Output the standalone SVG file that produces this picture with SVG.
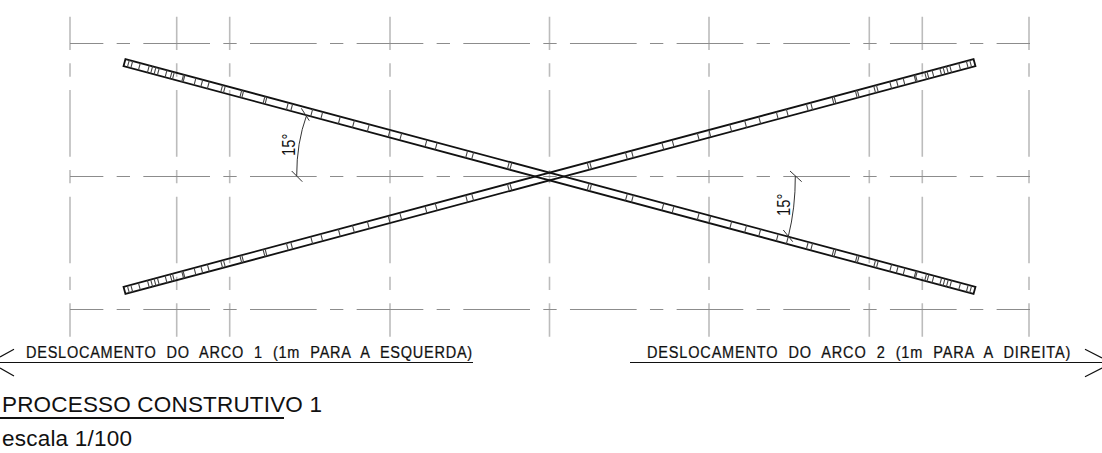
<svg xmlns="http://www.w3.org/2000/svg" xmlns:xlink="http://www.w3.org/1999/xlink" width="1102" height="453" viewBox="0 0 1102 453">
<style>
text{font-family:"Liberation Sans",Arial,sans-serif;fill:#111}
.gv{fill:none;stroke:#bcbcbc;stroke-width:1.6;stroke-dasharray:66.67 13.33 13.33 13.33;stroke-dashoffset:33.33}
.gh{fill:none;stroke:#8c8c8c;stroke-width:1.1;stroke-dasharray:66.67 13.33 13.33 13.33;stroke-dashoffset:33.33}
.edge{fill:none;stroke:#111;stroke-width:1.8}
.tick{fill:none;stroke:#444;stroke-width:1.1}
.thin{fill:none;stroke:#333;stroke-width:1}
.rule{fill:none;stroke:#111;stroke-width:1.2}
.cad{font-size:16.5px;word-spacing:6px;stroke:#111;stroke-width:.25}
.ang{font-size:18px}
</style>
<defs>
<g id="beam">
<path class="edge" d="M-440-3.7H440V3.7H-440Z"/>
<path class="tick" d="M40-3.7v7.4M42.6-3.7v7.4M79.6-3.7v7.4M85.8-3.7v7.4M117.3-3.7v7.4M127.9-3.7v7.4M154-3.7v7.4M166-3.7v7.4M187.6-3.7v7.4M203-3.7v7.4M217.6-3.7v7.4M235.8-3.7v7.4M246.2-3.7v7.4M266.9-3.7v7.4M271.4-3.7v7.4M293.5-3.7v7.4M295.6-3.7v7.4M317.6-3.7v7.4M319.6-3.7v7.4M336.6-3.7v7.4M339.4-3.7v7.4M353.2-3.7v7.4M360-3.7v7.4M367-3.7v7.4M378.4-3.7v7.4M379.8-3.7v7.4M389.4-3.7v7.4M391.8-3.7v7.4M397-3.7v7.4M405-3.7v7.4M408.4-3.7v7.4M411.9-3.7v7.4M415.3-3.7v7.4M424.6-3.7v7.4M432.5-3.7v7.4M436-3.7v7.4"/>
<path class="tick" d="M-40-3.7v7.4M-42.6-3.7v7.4M-79.6-3.7v7.4M-85.8-3.7v7.4M-117.3-3.7v7.4M-127.9-3.7v7.4M-154-3.7v7.4M-166-3.7v7.4M-187.6-3.7v7.4M-203-3.7v7.4M-217.6-3.7v7.4M-235.8-3.7v7.4M-246.2-3.7v7.4M-266.9-3.7v7.4M-271.4-3.7v7.4M-293.5-3.7v7.4M-295.6-3.7v7.4M-317.6-3.7v7.4M-319.6-3.7v7.4M-336.6-3.7v7.4M-339.4-3.7v7.4M-353.2-3.7v7.4M-360-3.7v7.4M-367-3.7v7.4M-378.4-3.7v7.4M-379.8-3.7v7.4M-389.4-3.7v7.4M-391.8-3.7v7.4M-397-3.7v7.4M-405-3.7v7.4M-408.4-3.7v7.4M-411.9-3.7v7.4M-415.3-3.7v7.4M-424.6-3.7v7.4M-432.5-3.7v7.4M-436-3.7v7.4"/>
</g>
</defs>
<g id="grid">
<path class="gv" d="M70 16.7V336.7M176.7 16.7V336.7M229.7 16.7V336.7M390 16.7V336.7M549.5 16.7V336.7M709 16.7V336.7M869.3 16.7V336.7M922.3 16.7V336.7M1029 16.7V336.7"/>
<path class="gh" d="M70 43.5H1030M70 176.5H1030M70 309.5H1030"/>
</g>
<g id="arch-1"><use xlink:href="#beam" href="#beam" transform="translate(549.5 176.5) rotate(15)"/></g>
<g id="arch-2"><use xlink:href="#beam" href="#beam" transform="translate(549.5 176.5) rotate(-15)"/></g>
<g id="angle-left">
<path class="thin" d="M296.7 176Q296.5 143 306.7 115M291.7 171L302.3 181.7M301.3 108.3L309.3 120.7"/>
<text class="ang" transform="translate(295 156) rotate(-90) scale(.82 1)">15°</text>
</g>
<g id="angle-right">
<path class="thin" d="M795.3 176Q795.5 208 788.3 236.5M790 171L801.7 181.7M783.3 230L792.7 241.7"/>
<text class="ang" transform="translate(790 216) rotate(-90) scale(.82 1)">15°</text>
</g>
<g id="shift-1">
<text class="cad" transform="translate(26 358.3) scale(.88 1)" textLength="507">DESLOCAMENTO DO ARCO 1 (1m PARA A ESQUERDA)</text>
<path class="rule" d="M0 362.5H473M14 349.3L0 357M14 376L0 368"/>
</g>
<g id="shift-2">
<text class="cad" transform="translate(647 358.3) scale(.88 1)" textLength="481">DESLOCAMENTO DO ARCO 2 (1m PARA A DIREITA)</text>
<path class="rule" d="M630 362.5H1102M1085 349.3L1102 358M1085 376.7L1102 368"/>
</g>
<g id="title">
<text x="2" y="411.7" font-size="22.5" textLength="320">PROCESSO CONSTRUTIVO 1</text>
<path d="M0 418H284" fill="none" stroke="#111" stroke-width="2"/>
<text x="2" y="445.5" font-size="22.5" textLength="130">escala 1/100</text>
</g>
</svg>
